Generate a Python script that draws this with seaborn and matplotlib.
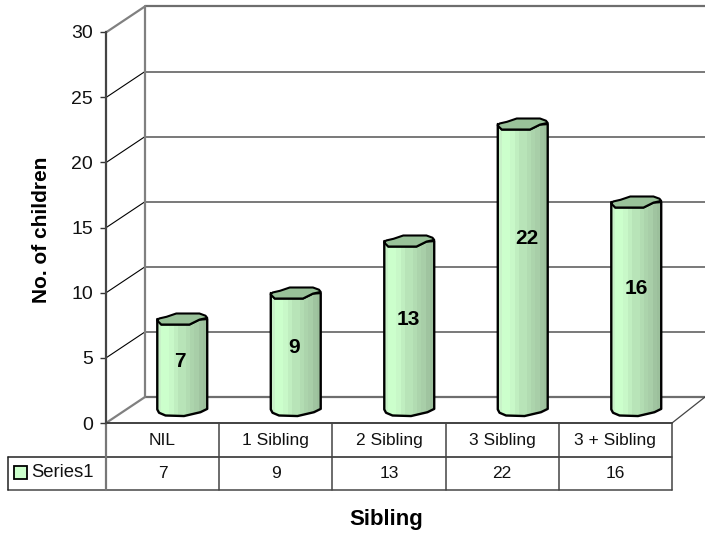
import numpy as np
import pandas as pd
import matplotlib
matplotlib.use("Agg")
import matplotlib.pyplot as plt
from matplotlib.colors import ListedColormap
from matplotlib.patches import Polygon, Rectangle
import seaborn as sns

categories = ["NIL", "1 Sibling", "2 Sibling", "3 Sibling", "3 + Sibling"]
children = [7, 9, 13, 22, 16]
series_name = "Series1"
y_ticks = [0, 5, 10, 15, 20, 25, 30]
x_title = "Sibling"
y_title = "No. of children"

# Bands of shading around each cylinder, left to right
band_colors = ["#c8f2c8", "#ccffcc", "#ccffcc", "#c8f8c8", "#c0eec0", "#b8e4b8",
               "#b8e4b8", "#b2dcb2", "#acd4ac", "#a8cea8", "#a0c4a0", "#9cc09c"]
cap_color = "#99c299"
swatch_color = "#ccffcc"
wall_grey = "#808080"

# Nudge of each value label from the middle of its bar, in pixels
label_lift = [3, 4, 6, 29, 18]
label_shift = [-2, -1.5, -1, 4, 0.5]

# Outline of a cylinder end: unit coordinates around its centre
top_u = [-1, -0.92, -0.63, -0.24, 0.69, 0.93, 1, 0.69, 0.29, -0.84, -1]
top_v = [-0.2, 0.1, 0.4, 1, 1, 0.6, 0.2, -0.1, -1, -1, -0.3]
bottom_u = [-1, -0.93, -0.67, 0.07, 0.73, 1]
bottom_v = [0.1, -0.5, -1, -1.1, -0.4, 0.2]

sns.set_theme(style="white")
plt.rcParams["font.family"] = ["Liberation Sans", "DejaVu Sans"]

W, H = 705, 534
fig = plt.figure(figsize=(W / 100, H / 100), dpi=100, facecolor="white")


def px_axes(left, top, right, bottom):
    return fig.add_axes([left / W, 1 - bottom / H, (right - left) / W, (bottom - top) / H])


# Chart furniture in pixel space: back wall, floor, data table
frame = fig.add_axes([0, 0, 1, 1])
frame.set_xlim(0, W)
frame.set_ylim(H, 0)
frame.axis("off")

front_x, back_x, right_x, far_x = 106, 145, 672, 705
front_zero, back_zero, step = 423, 397, 65.1
for i in range(len(y_ticks)):
    edge = i in (0, len(y_ticks) - 1)
    yb = back_zero - i * step
    yf = front_zero - i * step
    frame.plot([back_x, far_x], [yb, yb], color="#6e6e6e", lw=1.6 if edge else 1.3, solid_capstyle="butt")
    frame.plot([front_x, back_x], [yf, yb], color=wall_grey if edge else "black",
               lw=1.6 if edge else 0.8)
frame.plot([back_x, back_x], [back_zero, back_zero - 6 * step], color=wall_grey, lw=1.6)
frame.plot([right_x, far_x], [front_zero, back_zero], color="#444444", lw=0.9)

# Data table beneath the plot
col_w = (right_x - front_x) / len(categories)
row1, row2, row3 = 423, 457, 490
frame.plot([front_x, right_x], [row1, row1], color="#333333", lw=1.3)
frame.plot([8, right_x], [row2, row2], color="#222222", lw=1.1)
frame.plot([8, right_x], [row3, row3], color="#555555", lw=1.2)
frame.plot([8, 8], [row2, row3], color="#222222", lw=1.1)
frame.plot([front_x, front_x], [row1, row3], color="#777777", lw=1.6)
for i, (name, val) in enumerate(zip(categories, children)):
    x0 = front_x + (i + 1) * col_w
    frame.plot([x0, x0], [row1, row3], color="#444444", lw=1.1)
    xc = front_x + (i + 0.5) * col_w
    frame.text(xc, (row1 + row2) / 2 + 0.5, name, ha="center", va="center", fontsize=12.5, color="#111111")
    frame.text(xc, (row2 + row3) / 2 - 0.5, str(val), ha="center", va="center", fontsize=12.5, color="#111111")
frame.add_patch(Rectangle((13.5, 472 - 6.5), 13, 13, fc=swatch_color, ec="black", lw=1.3))
frame.text(31.5, 472.5, series_name, ha="left", va="center", fontsize=13.3, color="#111111")

# Value axis on the front edge
ax_val = px_axes(front_x, 32, right_x, front_zero)
ax_val.patch.set_alpha(0)
ax_val.set_ylim(0, 30)
ax_val.set_xticks([])
ax_val.set_yticks(y_ticks)
ax_val.tick_params(axis="y", labelsize=14, length=4.5, width=1, color="#333333",
                   left=True, pad=5, labelcolor="#111111")
sns.despine(ax=ax_val, top=True, right=True, bottom=True)
ax_val.spines["left"].set_color("#444444")
ax_val.spines["left"].set_linewidth(1.6)
ax_val.set_ylabel(y_title, fontsize=15, fontweight="bold", color="black")
ax_val.yaxis.set_label_coords((51 - front_x) / (right_x - front_x), (front_zero - 230) / (front_zero - 32),
                              transform=ax_val.transAxes)

# Bars share the value scale, set back on the chart floor
ax_bar = px_axes(125.5, 20, 693, 410)
ax_bar.patch.set_alpha(0)
frame_df = pd.DataFrame({"category": categories, "children": children})
sns.barplot(data=frame_df, x="category", y="children", ax=ax_bar, width=0.44,
            color=swatch_color, linewidth=0, saturation=1)
ax_bar.set_xlim(-0.5, len(categories) - 0.5)
ax_bar.set_ylim(0, 30)
ax_bar.axis("off")

shade = ListedColormap(band_colors)
end_h = 5.5 * 30 / 390
for bar, val, lift, shift in zip(list(ax_bar.patches), children, label_lift, label_shift):
    x0, w = bar.get_x(), bar.get_width()
    xc, hw = x0 + w / 2, w / 2
    h = bar.get_height()
    bar.set_visible(False)
    top = np.column_stack([xc + hw * np.array(top_u), h + end_h * np.array(top_v)])
    base = np.column_stack([xc + hw * np.array(bottom_u), end_h * np.array(bottom_v)])
    # Side wall: down the left edge, along the base, back up the right, under the cap
    side = np.vstack([[[xc - hw, h]], base, [[xc + hw, h]], top[[7, 8, 9]]])
    outline = Polygon(side, closed=True, fc="none", ec="black", lw=1.7, joinstyle="round", zorder=4,
                      clip_on=False)
    ax_bar.add_patch(outline)
    img = ax_bar.imshow(np.linspace(0, 1, 120)[None, :], cmap=shade, aspect="auto",
                        extent=(xc - hw, xc + hw, -end_h * 1.3, h + end_h * 1.2), zorder=3,
                        interpolation="nearest")
    img.set_clip_path(outline)
    img.set_clip_box(fig.bbox)
    ax_bar.add_patch(Polygon(top, closed=True, fc=cap_color, ec="black", lw=1.5, joinstyle="round", zorder=5))
    ax_bar.annotate(str(val), (xc, h / 2), xytext=(shift * 0.72, lift * 0.72), textcoords="offset points",
                    ha="center", va="center", fontsize=15, fontweight="bold", color="black", zorder=6)
ax_bar.set_xlim(-0.5, len(categories) - 0.5)
ax_bar.set_ylim(0, 30)

frame.text(386.5, 519, x_title, ha="center", va="center", fontsize=16, fontweight="bold", color="black")

fig.savefig("out.png", dpi=100)
